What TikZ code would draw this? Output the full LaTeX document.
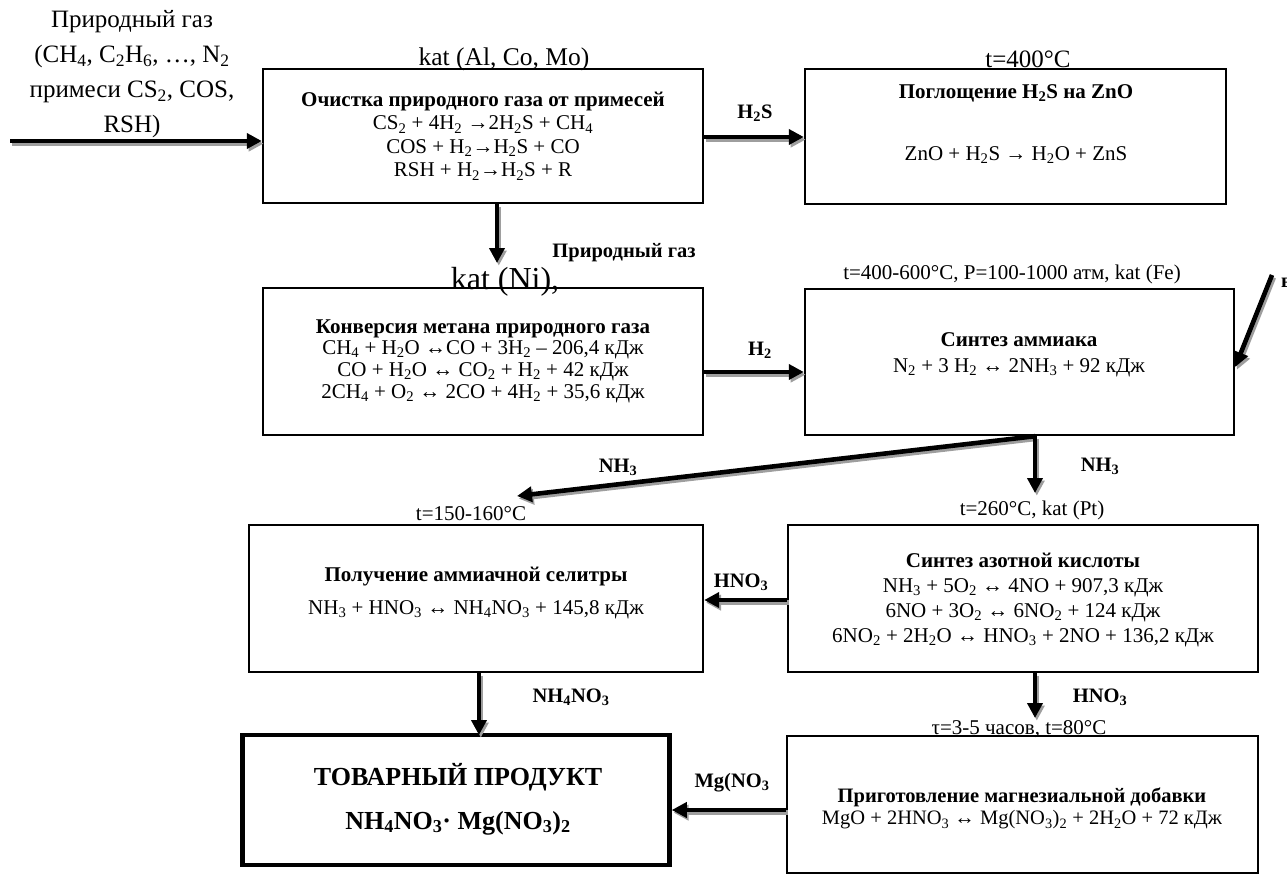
\documentclass[tikz,border=0pt]{standalone}
\usepackage{fontspec}
\setmainfont{Liberation Serif}
\usetikzlibrary{arrows.meta,calc}
\newcommand\fs[2]{\fontsize{#1}{#2}\selectfont}
\newcommand\sub[1]{\textsubscript{#1}}
\tikzset{
  box/.style={draw, line width=2.4pt, inner sep=0pt},
  bigbox/.style={draw, line width=4.5pt, inner sep=0pt},
  txt/.style={inner sep=0pt, align=center, font=\fs{21}{23.5}},
  cond/.style={inner sep=0pt, font=\fs{21}{24}},
  lbl/.style={inner sep=0pt, font=\fs{20.5}{23}\bfseries},
  flow/.style={line width=4.6pt, -{Triangle[length=15pt,width=15pt]}},
  flowsh/.style={flow, draw=black!38, fill=black!38, transform canvas={shift={(1.8pt,-2.6pt)}}},
}
\newcommand\flowarr[2]{\draw[flowsh] #1 -- #2; \draw[flow] #1 -- #2;}
\begin{document}
\begin{tikzpicture}[x=1pt,y=-1pt]
\useasboundingbox (0,0) rectangle (1287,876);
% boxes
\node[box, minimum width=440pt, minimum height=134pt] (b1) at (483,136) {};
\node[box, minimum width=421pt, minimum height=135pt] (b2) at (1015.5,136.5) {};
\node[box, minimum width=440pt, minimum height=147pt] (b3) at (483,361.5) {};
\node[box, minimum width=429pt, minimum height=146pt] (b4) at (1019.5,362) {};
\node[box, minimum width=454pt, minimum height=147pt] (b5) at (476,598.5) {};
\node[box, minimum width=470pt, minimum height=147pt] (b6) at (1023,598.5) {};
\node[bigbox, minimum width=427pt, minimum height=130pt] (b8) at (456,800) {};
\node[box, minimum width=471pt, minimum height=137pt] (b7) at (1022.5,804.5) {};
% input text
\node[inner sep=0pt, align=center, font=\fs{25}{35}] (inp) at (132,74)
  {Природный газ\\(CH\sub{4}, C\sub{2}H\sub{6}, …, N\sub{2}\\примеси CS\sub{2}, COS,\\RSH)};
% conditions
\node[cond, font=\fs{25.5}{28}, anchor=base] (c1) at (504,65) {kat (Al, Co, Mo)};
\node[cond, font=\fs{25}{28}, anchor=base] (c2) at (1028,67) {t=400°C};
\node[cond, font=\fs{32}{34}, anchor=base] (c3) at (505,289) {kat (Ni),};
\node[cond, anchor=base] (c4) at (1012,279) {t=400-600°C, P=100-1000 атм, kat (Fe)};
\node[cond, anchor=base] (c5) at (471,520) {t=150-160°C};
\node[cond, anchor=base] (c6) at (1032,515) {t=260°C, kat (Pt)};
\node[cond, anchor=base] (c7) at (1019,734) {τ=3-5 часов, t=80°C};
% box texts
\node[txt] (t1) at (483,136) {\textbf{Очистка природного газа от примесей}\\
  CS\sub{2} + 4H\sub{2} →2H\sub{2}S + CH\sub{4}\\
  COS + H\sub{2}→H\sub{2}S + CO\\
  RSH + H\sub{2}→H\sub{2}S + R};
\node[txt] (t2a) at (1016,93) {\textbf{Поглощение H\sub{2}S на ZnO}};
\node[txt] (t2b) at (1016,155) {ZnO + H\sub{2}S → H\sub{2}O + ZnS};
\node[txt, font=\fs{21}{21.7}] (t3) at (483,361) {\textbf{Конверсия метана природного газа}\\
  CH\sub{4} + H\sub{2}O ↔CO + 3H\sub{2} – 206,4 кДж\\
  CO + H\sub{2}O ↔ CO\sub{2} + H\sub{2} + 42 кДж\\
  2CH\sub{4} + O\sub{2} ↔ 2CO + 4H\sub{2} + 35,6 кДж};
\node[txt] (t4a) at (1019,340) {\textbf{Синтез аммиака}};
\node[txt] (t4b) at (1019,368) {N\sub{2} + 3 H\sub{2} ↔ 2NH\sub{3} + 92 кДж};
\node[txt] (t5a) at (476,577) {\textbf{Получение аммиачной селитры}};
\node[txt] (t5b) at (476,610) {NH\sub{3} + HNO\sub{3} ↔ NH\sub{4}NO\sub{3} + 145,8 кДж};
\node[txt, font=\fs{21}{24.7}] (t6) at (1023,600) {\textbf{Синтез азотной кислоты}\\
  NH\sub{3} + 5O\sub{2} ↔ 4NO + 907,3 кДж\\
  6NO + 3O\sub{2} ↔ 6NO\sub{2} + 124 кДж\\
  6NO\sub{2} + 2H\sub{2}O ↔ HNO\sub{3} + 2NO + 136,2 кДж};
\node[txt, font=\fs{20.5}{23}] (t7a) at (1022,797) {\textbf{Приготовление магнезиальной добавки}};
\node[txt, font=\fs{20.5}{23}] (t7b) at (1022,820) {MgO + 2HNO\sub{3} ↔ Mg(NO\sub{3})\sub{2} + 2H\sub{2}O + 72 кДж};
\node[txt, font=\fs{26}{30}\bfseries] (t8a) at (458,777) {ТОВАРНЫЙ ПРОДУКТ};
\node[txt, font=\fs{26}{30}\bfseries] (t8b) at (458,823) {NH\sub{4}NO\sub{3}· Mg(NO\sub{3})\sub{2}};
% flow labels
\node[lbl] (l1) at (755,113) {H\sub{2}S};
\node[lbl] (l2) at (624,253) {Природный газ};
\node[lbl] (l3) at (760,350) {H\sub{2}};
\node[lbl] (l4) at (618,467) {NH\sub{3}};
\node[lbl] (l5) at (1100,466) {NH\sub{3}};
\node[lbl] (l6) at (741,582) {HNO\sub{3}};
\node[lbl] (l7) at (571,697) {NH\sub{4}NO\sub{3}};
\node[lbl] (l8) at (1100,697) {HNO\sub{3}};
\node[lbl] (l9) at (732,783) {Mg(NO\sub{3}};
\node[lbl, anchor=base west] (l10) at (1281,287) {воздух};
% helper coordinates
\coordinate (inS) at (10,141);
\coordinate (airS) at (1272,275);
\coordinate (nh3L) at (517,496);
\coordinate (nh3D) at (1035,493);
\coordinate (hno3D) at (1035,718);
\coordinate (n4D) at (479,735);
% connectors
\flowarr{(inS)}{(b1.west |- inS)}
\flowarr{(b1.east |- 0,137)}{(b2.west |- 0,137)}
\flowarr{(b1.south -| 497,0)}{(497,263)}
\flowarr{(b3.east |- 0,372)}{(b4.west |- 0,372)}
\flowarr{(airS)}{(b4.east |- 0,367)}
\flowarr{(b4.south -| nh3D)}{(nh3L)}
\flowarr{(b4.south -| nh3D)}{(nh3D)}
\flowarr{(b6.west |- 0,600)}{(b5.east |- 0,600)}
\flowarr{(b5.south -| n4D)}{(n4D)}
\flowarr{(b6.south -| hno3D)}{(hno3D)}
\flowarr{(b7.west |- 0,810)}{(b8.east |- 0,810)}
\end{tikzpicture}
\end{document}
